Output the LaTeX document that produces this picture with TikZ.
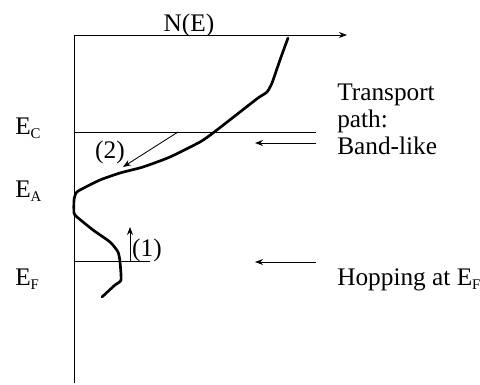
\documentclass[tikz,border=0pt]{standalone}
\usepackage{fontspec}
\setmainfont{Liberation Serif}
\usetikzlibrary{arrows.meta}
\newcommand{\esub}[1]{\textsubscript{\fontsize{10.5}{11}\selectfont #1}}

\begin{document}
\begin{tikzpicture}[>=Stealth, font=\fontsize{18}{19.5}\selectfont,
  lbl/.style={inner sep=0pt, anchor=base west},
  thin line/.style={line width=0.6pt},
  dos/.style={line width=1.9pt, line join=round, line cap=round}]
\useasboundingbox (0,0) rectangle (12,9.625);
% --- axes: energy (down) and N(E) (right) ---
\coordinate (O) at (1.85,8.75);
\coordinate (bot) at (1.85,0.05);
\coordinate (xend) at (8.675,8.75);
\draw[thin line] (bot) -- (O);
\draw[thin line, ->] (O) -- (xend);
\node[inner sep=0pt, anchor=base] (NE) at (4.725,8.825) {N(E)};
% --- energy levels ---
\node[lbl] (Ec) at (0.375,6.25) {E\esub{C}};
\node[lbl] (Ea) at (0.375,4.675) {E\esub{A}};
\node[lbl] (Ef) at (0.375,2.475) {E\esub{F}};
\coordinate (EcL) at (1.85,6.325);  \coordinate (EcR) at (7.9,6.325);
\coordinate (EfL) at (1.85,3.1);    \coordinate (EfR) at (3.75,3.1);
\draw[thin line] (EcL) -- (EcR);
\draw[thin line] (EfL) -- (EfR);
% --- density of states ---
\draw[dos] plot[smooth, tension=0.35] coordinates {
  (7.2,8.675) (7.0,8.125) (6.8,7.55) (6.675,7.325) (6.45,7.175)
  (6.0,6.825) (5.325,6.3) (5.0,6.075) (4.25,5.7) (3.575,5.45)
  (3.0,5.3) (2.5,5.125) (2.0,4.875) (1.9,4.8) (1.85,4.625)
  (1.85,4.3) (1.925,4.2) (2.325,3.875) (2.75,3.575) (2.95,3.325)
  (3.0,3.075) (3.025,2.625) (2.875,2.5) (2.55,2.2)};
% --- transitions (1) and (2) ---
\coordinate (t2a) at (4.45,6.325);  \coordinate (t2b) at (3.075,5.45);
\draw[thin line, ->] (t2a) -- (t2b);
\node (lab2) at (2.75,5.825) {(2)};
\coordinate (t1a) at (3.25,3.1);    \coordinate (t1b) at (3.25,3.95);
\draw[thin line, ->] (t1a) -- (t1b);
\node (lab1) at (3.675,3.375) {(1)};
% --- transport paths ---
\node[lbl, align=left] (band) at (8.425,5.75) {Transport\\path:\\Band-like};
\node[lbl] (hop) at (8.425,2.475) {Hopping at E\esub{F}};
\coordinate (a1) at (7.9,6.05);  \coordinate (a1e) at (6.375,6.05);
\coordinate (a2) at (7.9,3.075); \coordinate (a2e) at (6.375,3.075);
\draw[thin line, ->] (a1) -- (a1e);
\draw[thin line, ->] (a2) -- (a2e);
\end{tikzpicture}
\end{document}
